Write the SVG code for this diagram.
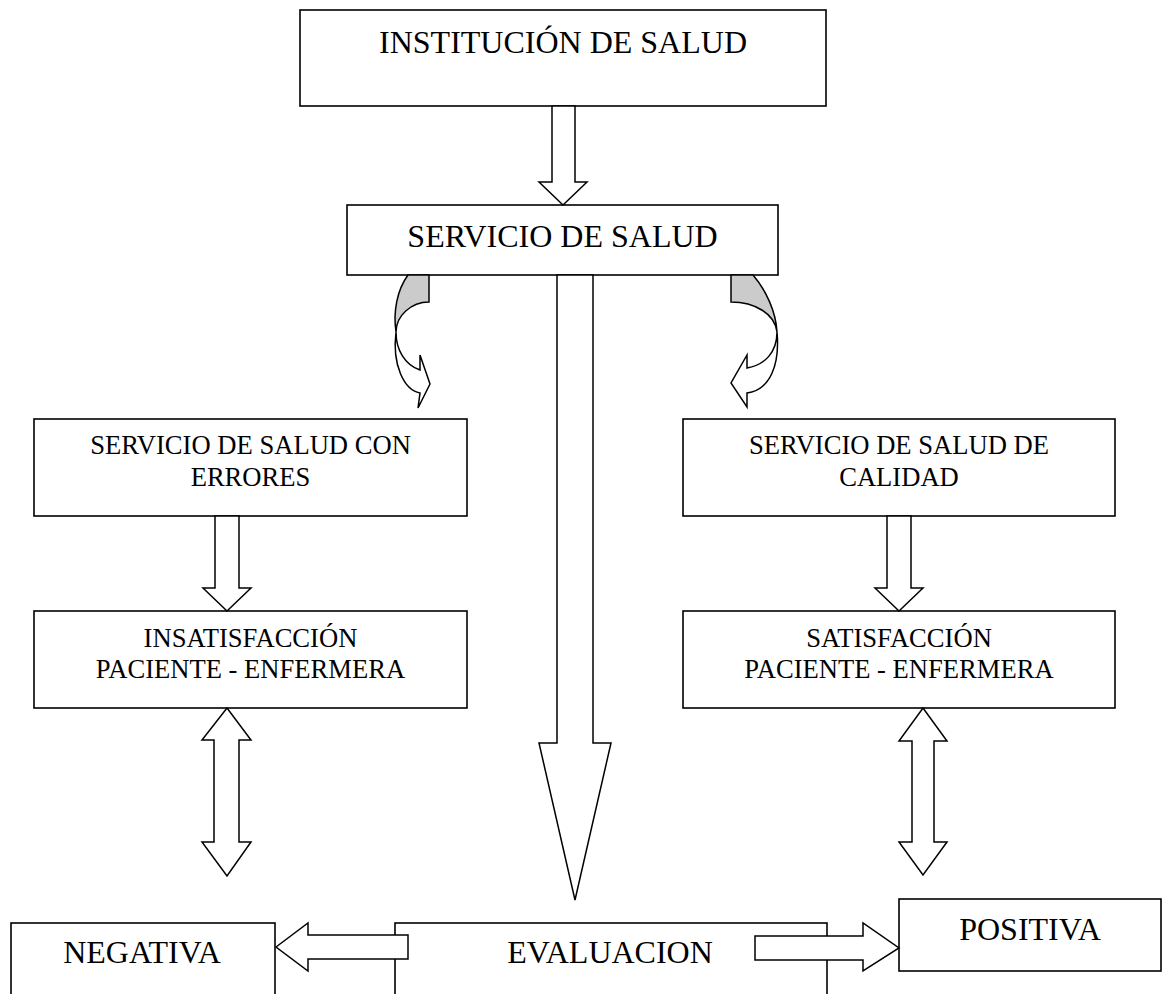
<svg xmlns="http://www.w3.org/2000/svg" width="1163" height="994" viewBox="0 0 1163 994">
<style>
.box{fill:#fff;stroke:#000;stroke-width:1.6}
.arr{fill:#fff;stroke:#000;stroke-width:1.5;stroke-linejoin:miter}
.gray{fill:#cbcbcb;stroke:#000;stroke-width:1.5}
.big{font-family:"Liberation Serif","Times New Roman",serif;font-size:32px;text-anchor:middle;fill:#000}
.sm{font-family:"Liberation Serif","Times New Roman",serif;font-size:26.6px;text-anchor:middle;fill:#000}
</style>
<rect width="1163" height="994" fill="#fff"/>
<g id="institucion"><rect class="box" x="300" y="10" width="526" height="96"/><text class="big" x="563" y="53">INSTITUCIÓN DE SALUD</text></g>
<g id="servicio"><rect class="box" x="347" y="205" width="431" height="70"/><text class="big" x="562.5" y="247">SERVICIO DE SALUD</text></g>
<g id="errores"><rect class="box" x="34" y="419" width="433" height="97"/><text class="sm" x="250.5" y="454">SERVICIO DE SALUD CON</text><text class="sm" x="250.5" y="486">ERRORES</text></g>
<g id="insatisfaccion"><rect class="box" x="34" y="611" width="433" height="97"/><text class="sm" x="250.5" y="647">INSATISFACCIÓN</text><text class="sm" x="250.5" y="678">PACIENTE - ENFERMERA</text></g>
<g id="calidad"><rect class="box" x="683" y="419" width="432" height="97"/><text class="sm" x="899" y="454">SERVICIO DE SALUD DE</text><text class="sm" x="899" y="486">CALIDAD</text></g>
<g id="satisfaccion"><rect class="box" x="683" y="611" width="432" height="97"/><text class="sm" x="899" y="647">SATISFACCIÓN</text><text class="sm" x="899" y="678">PACIENTE - ENFERMERA</text></g>
<g id="negativa"><rect class="box" x="11" y="923" width="264" height="90"/><text class="big" x="142" y="963">NEGATIVA</text></g>
<g id="evaluacion"><rect class="box" x="395" y="923" width="432" height="90"/><text class="big" x="610" y="963">EVALUACION</text></g>
<g id="positiva"><rect class="box" x="899" y="899" width="262" height="72"/><text class="big" x="1030" y="940">POSITIVA</text></g>
<g id="connectors">
<path class="arr" d="M552,106 L575,106 L575,182 L587,182 L563,205 L539,182 L552,182 Z"/>
<path class="arr" d="M557,275 L593,275 L593,743 L611,743 L575,900 L539,743 L557,743 Z"/>
<path class="gray" d="M408,275 L429,275 L429,302 C411,302 396,316 396,332 C393,312 397,290 408,275 Z"/>
<path class="arr" d="M396,332 C396,350 405,365 420,370 L420,355 L430,384 L418,408 L420,393 C404,390 392,365 396,332 Z"/>
<path class="gray" d="M731,275 L753,275 C766,290 776,312 777,332 C775,314 755,302 731,302 Z"/>
<path class="arr" d="M777,332 C777,352 765,365 747,368 L747,355 L731,383 L747,407 L747,393 C770,390 780,365 777,332 Z"/>
<path class="arr" d="M215,516 L239,516 L239,588 L251,588 L227,611 L203,588 L215,588 Z"/>
<path class="arr" d="M887,516 L911,516 L911,588 L923,588 L899,611 L875,588 L887,588 Z"/>
<path class="arr" d="M227,708 L251,740 L239,740 L239,842 L251,842 L227,876 L202,842 L214,842 L214,740 L202,740 Z"/>
<path class="arr" d="M923,708 L947,741 L934,741 L934,842 L947,842 L923,875 L899,842 L912,842 L912,741 L899,741 Z"/>
<path class="arr" d="M276,947 L308,923 L308,935 L408,935 L408,959 L308,959 L308,971 Z"/>
<path class="arr" d="M755,936 L863,936 L863,923 L899,948 L863,971 L863,960 L755,960 Z"/>
</g>
</svg>
